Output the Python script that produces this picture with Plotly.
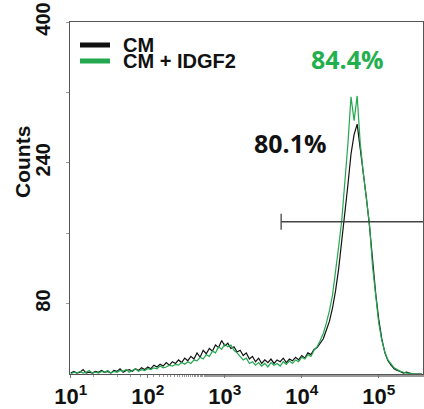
import plotly.graph_objects as go

# ---------------- data ----------------
SERIES_NAMES = ["CM", "CM + IDGF2"]
SERIES_COLORS = ["#111111", "#23A84F"]
TEXT_GREEN = "#22AF4E"

# histogram channel grid: log10 of the first bin and bin width (in decades)
LOG_START = 1.0
LOG_STEP = 0.04

CM_COUNTS = [
    1, 3, 1, 2, 5, 1, 2, 1, 3, 2, 4, 2, 3, 1, 4, 3, 6, 2, 4, 5, 3, 6, 4, 7, 5,
    8, 6, 10, 8, 11, 9, 13, 10, 14, 12, 16, 13, 18, 15, 20, 17, 24, 19, 27, 23,
    29, 26, 33, 30, 38, 32, 35, 29, 31, 25, 27, 21, 24, 17, 20, 14, 18, 12, 16,
    13, 17, 12, 16, 14, 18, 13, 17, 15, 19, 16, 21, 18, 24, 22, 28, 30, 35, 40,
    50, 60, 75, 95, 120, 150, 178, 215, 250, 272, 284, 258, 232, 200, 168, 125,
    92, 62, 40, 24, 15, 10, 6, 4, 3, 1, 2, 1, 0, 0, 0, 0,
]
IDGF2_COUNTS = [
    0, 2, 1, 3, 1, 2, 4, 1, 2, 1, 3, 2, 4, 1, 3, 2, 4, 3, 5, 2, 4, 6, 3, 5, 4,
    6, 5, 7, 6, 9, 7, 8, 10, 9, 11, 10, 13, 11, 14, 12, 16, 15, 19, 17, 22, 20,
    26, 24, 31, 28, 34, 31, 33, 27, 24, 20, 16, 18, 12, 14, 10, 13, 9, 12, 8,
    13, 10, 12, 9, 14, 11, 15, 12, 16, 14, 19, 17, 22, 20, 27, 31, 38, 46, 58,
    72, 90, 115, 145, 175, 215, 262, 315, 288, 316, 262, 228, 196, 170, 122,
    88, 58, 38, 25, 16, 11, 7, 5, 3, 2, 1, 1, 0, 0, 0, 0,
]

GATE_START = 5400      # left end of the marker gate (channel value)
GATE_Y = 173           # height of the marker gate (counts)
GATE_PCT = ["80.1%", "84.4%"]

X_TICK_VALUES = [10, 100, 1000, 10000, 100000]
X_TICK_TEXT = ["10<sup>1</sup>", "10<sup>2</sup>", "10<sup>3</sup>",
               "10<sup>4</sup>", "10<sup>5</sup>"]
Y_TICK_VALUES = [80, 160, 240, 320, 400]
Y_TICK_TEXT = ["80", "", "240", "", "400"]
X_RANGE_LOG = [0.99, 5.575]
Y_RANGE = [0, 400]

# ---------------- figure ----------------
L, R, T, B = 70, 1, 22, 35
PW, PH = 424 - L - R, 409 - T - B


def px_x(p):
    return (p - L) / PW


def px_y(p):
    return (409 - B - p) / PH


def bins(n):
    return [10 ** (LOG_START + LOG_STEP * i) for i in range(n)]


fig = go.Figure()
for name, counts, color in zip(SERIES_NAMES, [CM_COUNTS, IDGF2_COUNTS], SERIES_COLORS):
    fig.add_trace(go.Scatter(
        x=bins(len(counts)), y=counts, mode="lines", name=name,
        line=dict(color=color, width=1.2), showlegend=False,
    ))

# gate marker
fig.add_shape(type="line", xref="x", yref="y", x0=GATE_START, x1=10 ** X_RANGE_LOG[1],
              y0=GATE_Y, y1=GATE_Y, line=dict(color="#444444", width=1.3))
fig.add_shape(type="line", xref="x", yref="y", x0=GATE_START, x1=GATE_START,
              y0=GATE_Y - 9, y1=GATE_Y + 9, line=dict(color="#444444", width=1.3))

# percentage labels
pct_font = dict(family="Open Sans", size=25, weight="bold")
fig.add_annotation(x=3.857, y=262, xref="x", yref="y", text=GATE_PCT[0],
                   showarrow=False, font=dict(pct_font, color="#111111"))
fig.add_annotation(x=4.597, y=358, xref="x", yref="y", text=GATE_PCT[1],
                   showarrow=False, font=dict(pct_font, color=TEXT_GREEN))

# legend (drawn manually for tight spacing)
for k, (name, color) in enumerate(zip(SERIES_NAMES, SERIES_COLORS)):
    yp = px_y(45 + 16 * k)
    fig.add_shape(type="line", xref="paper", yref="paper",
                  x0=px_x(80), x1=px_x(110), y0=yp, y1=yp,
                  line=dict(color=color, width=5))
    fig.add_annotation(x=px_x(121), y=yp, xref="paper", yref="paper",
                       xanchor="left", yanchor="middle", showarrow=False,
                       text=name,
                       font=dict(family="Arial", size=20, weight="bold", color="#111111"))

# y-axis title
fig.add_annotation(x=px_x(22), y=px_y(162), xref="paper", yref="paper",
                   xanchor="center", yanchor="middle", showarrow=False,
                   text="Counts", textangle=-90,
                   font=dict(family="Arial", size=21, weight="bold", color="#111111"))

fig.update_xaxes(
    type="log", range=X_RANGE_LOG,
    tickvals=X_TICK_VALUES, ticktext=X_TICK_TEXT,
    tickfont=dict(family="Arial", size=22, weight="bold", color="#111111"),
    ticks="outside", ticklen=3, tickcolor="#777777",
    showline=True, linecolor="#555555", linewidth=1, mirror=True,
    showgrid=False, zeroline=False,
    minor=dict(ticks="outside", ticklen=2, tickcolor="#999999", showgrid=False),
)
fig.update_yaxes(
    range=Y_RANGE, tickvals=Y_TICK_VALUES, ticktext=Y_TICK_TEXT,
    tickangle=-90, tickfont=dict(family="Arial", size=20, weight="bold", color="#111111"),
    ticks="outside", ticklen=3, tickcolor="#999999",
    showline=True, linecolor="#555555", linewidth=1, mirror=True,
    showgrid=False, zeroline=False, ticklabelstandoff=8,
)
fig.update_layout(
    width=424, height=409,
    margin=dict(l=L, r=R, t=T, b=B),
    plot_bgcolor="white", paper_bgcolor="white",
    showlegend=False,
)
fig.write_html("out.html")
